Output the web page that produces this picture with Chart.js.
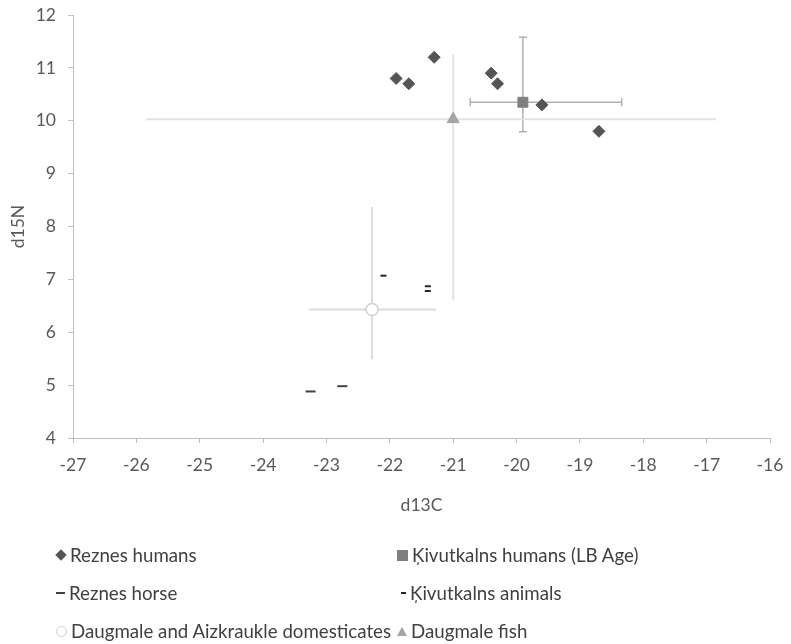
<!DOCTYPE html>
<html>
<head>
<meta charset="utf-8">
<script src="https://cdn.jsdelivr.net/npm/chart.js@4/dist/chart.umd.min.js"></script>
<style>
  body { margin: 0; background: #fff; }
  #wrap { position: relative; width: 791px; height: 644px; font-family: Lato, "Open Sans", sans-serif; }
  #legend { position: absolute; left: 0; top: 0; width: 791px; height: 644px; pointer-events: none; }
  .item { position: absolute; display: flex; align-items: center; font-size: 18.7px; color: #404040; white-space: nowrap; transform: translateY(-50%); }
  .mk { display: inline-block; margin-right: 4px; }
</style>
</head>
<body>
<div id="wrap">
  <canvas id="chart" width="791" height="644"></canvas>
  <div id="legend"></div>
</div>
<script>
// d13C / d15N values
const reznesHumansX = [-21.9, -21.7, -21.3, -20.4, -20.3, -19.6, -18.7];
const reznesHumansY = [10.8, 10.7, 11.2, 10.9, 10.7, 10.3, 9.8];

const kivHumansX = [-19.9];
const kivHumansY = [10.35];
const kivHumansXLow = [-20.73];
const kivHumansXHigh = [-18.34];
const kivHumansYLow = [9.79];
const kivHumansYHigh = [11.58];

const reznesHorseX = [-23.25, -22.75];
const reznesHorseY = [4.88, 4.98];

const kivAnimalsX = [-22.1, -21.4, -21.4];
const kivAnimalsY = [7.07, 6.87, 6.78];

const domesticX = [-22.28];
const domesticY = [6.43];
const domesticXLow = [-23.28];
const domesticXHigh = [-21.27];
const domesticYLow = [5.49];
const domesticYHigh = [8.37];

const fishX = [-21.0];
const fishY = [10.03];
const fishXLow = [-25.85];
const fishXHigh = [-16.85];
const fishYLow = [6.6];
const fishYHigh = [11.25];

const xTicks = [-27, -26, -25, -24, -23, -22, -21, -20, -19, -18, -17, -16];
const yTicks = [4, 5, 6, 7, 8, 9, 10, 11, 12];

function pts(xs, ys) {
    return xs.map((x, i) => ({ x: x, y: ys[i] }));
}

// draws x/y error bars behind the markers
const errorBarPlugin = {
    id: 'errorBars',
    beforeDatasetsDraw(chart) {
        const ctx = chart.ctx;
        const xs = chart.scales.x, ys = chart.scales.y;
        chart.data.datasets.forEach(ds => {
            const e = ds.errorBars;
            if (!e) return;
            ds.data.forEach((p, i) => {
                const px = xs.getPixelForValue(p.x);
                const py = ys.getPixelForValue(p.y);
                const x1 = xs.getPixelForValue(e.xLow[i]), x2 = xs.getPixelForValue(e.xHigh[i]);
                const y1 = ys.getPixelForValue(e.yLow[i]), y2 = ys.getPixelForValue(e.yHigh[i]);
                ctx.save();
                ctx.strokeStyle = e.color;
                ctx.lineWidth = e.width;
                ctx.beginPath();
                ctx.moveTo(x1, py); ctx.lineTo(x2, py);
                ctx.moveTo(px, y1); ctx.lineTo(px, y2);
                if (e.cap) {
                    const c = e.cap;
                    ctx.moveTo(x1, py - c); ctx.lineTo(x1, py + c);
                    ctx.moveTo(x2, py - c); ctx.lineTo(x2, py + c);
                    ctx.moveTo(px - c, y1); ctx.lineTo(px + c, y1);
                    ctx.moveTo(px - c, y2); ctx.lineTo(px + c, y2);
                }
                ctx.stroke();
                ctx.restore();
            });
        });
    }
};

const tickFont = { family: 'Lato, "Open Sans", sans-serif', size: 17.5 };

const chart = new Chart(document.getElementById('chart'), {
    type: 'scatter',
    data: {
        datasets: [
            {
                label: 'Reznes humans',
                data: pts(reznesHumansX, reznesHumansY),
                pointStyle: 'rectRot', radius: 6,
                backgroundColor: '#555555', borderColor: '#555555', borderWidth: 1
            },
            {
                label: 'Ķivutkalns humans (LB Age)',
                data: pts(kivHumansX, kivHumansY),
                pointStyle: 'rect', radius: 7,
                backgroundColor: '#7f7f7f', borderColor: '#7f7f7f', borderWidth: 1,
                errorBars: { xLow: kivHumansXLow, xHigh: kivHumansXHigh, yLow: kivHumansYLow, yHigh: kivHumansYHigh, color: '#b0b0b0', width: 1.5, cap: 4 }
            },
            {
                label: 'Reznes horse',
                data: pts(reznesHorseX, reznesHorseY),
                pointStyle: 'line', radius: 5,
                backgroundColor: '#404040', borderColor: '#404040', borderWidth: 2
            },
            {
                label: 'Ķivutkalns animals',
                data: pts(kivAnimalsX, kivAnimalsY),
                pointStyle: 'line', radius: 3,
                backgroundColor: '#262626', borderColor: '#262626', borderWidth: 2
            },
            {
                label: 'Daugmale and Aizkraukle domesticates',
                data: pts(domesticX, domesticY),
                pointStyle: 'circle', radius: 6,
                backgroundColor: '#ffffff', borderColor: '#cfcfcf', borderWidth: 1.5,
                errorBars: { xLow: domesticXLow, xHigh: domesticXHigh, yLow: domesticYLow, yHigh: domesticYHigh, color: '#dcdcdc', width: 2, cap: 0 }
            },
            {
                label: 'Daugmale fish',
                data: pts(fishX, fishY),
                pointStyle: 'triangle', radius: 7,
                backgroundColor: '#a5a5a5', borderColor: '#a5a5a5', borderWidth: 1,
                errorBars: { xLow: fishXLow, xHigh: fishXHigh, yLow: fishYLow, yHigh: fishYHigh, color: '#e3e3e3', width: 2, cap: 0 }
            }
        ]
    },
    options: {
        responsive: false,
        animation: false,
        events: [],
        layout: { padding: { left: 4, right: 21, top: 15, bottom: 124 } },
        plugins: { legend: { display: false }, tooltip: { enabled: false } },
        scales: {
            x: {
                type: 'linear', min: -27, max: -16,
                afterBuildTicks: s => { s.ticks = xTicks.map(v => ({ value: v })); },
                afterFit: s => { s.height = 82; s.paddingLeft = 0; s.paddingRight = 0; },
                ticks: { font: tickFont, color: '#595959', padding: 12 },
                grid: { drawOnChartArea: false, drawTicks: true, tickLength: 5, color: '#bfbfbf' },
                border: { color: '#bfbfbf', width: 1 },
                title: { display: true, text: 'd13C', font: tickFont, color: '#595959' }
            },
            y: {
                type: 'linear', min: 4, max: 12,
                afterBuildTicks: s => { s.ticks = yTicks.map(v => ({ value: v })); },
                afterFit: s => { s.width = 69; s.paddingTop = 0; s.paddingBottom = 0; },
                ticks: { font: tickFont, color: '#595959', padding: 12 },
                grid: { drawOnChartArea: false, drawTicks: true, tickLength: 5, color: '#bfbfbf' },
                border: { color: '#bfbfbf', width: 1 },
                title: { display: true, text: 'd15N', font: tickFont, color: '#595959' }
            }
        }
    },
    plugins: [errorBarPlugin]
});

// two-column legend under the plot
const legendPos = [
    [62, 555], [403, 555],
    [62, 593], [403, 593],
    [62, 631], [403, 631]
];
const markerCss = [
    'width:8px;height:8px;background:#555555;transform:rotate(45deg);margin:0 5px 0 1px;',
    'width:11px;height:11px;background:#7f7f7f;',
    'width:9px;height:2px;background:#404040;',
    'width:5px;height:2px;background:#262626;margin-left:4px;',
    'width:9px;height:9px;border:1px solid #cfcfcf;border-radius:50%;background:#fff;',
    'width:0;height:0;border-left:5px solid transparent;border-right:5px solid transparent;border-bottom:9px solid #a5a5a5;'
];
const legendEl = document.getElementById('legend');
chart.data.datasets.forEach((ds, i) => {
    const item = document.createElement('div');
    item.className = 'item';
    item.style.left = (legendPos[i][0] - 6) + 'px';
    item.style.top = legendPos[i][1] + 'px';
    item.innerHTML = '<span class="mk" style="' + markerCss[i] + '"></span><span>' + ds.label + '</span>';
    legendEl.appendChild(item);
});
</script>
</body>
</html>
